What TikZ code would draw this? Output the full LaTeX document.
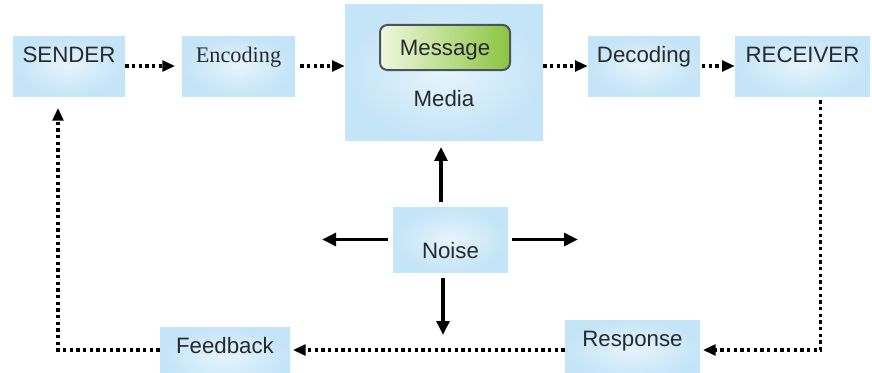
\documentclass[tikz,border=0pt]{standalone}
\usepackage{fontspec}
\setmainfont{Liberation Sans}
\newfontfamily\encfont{Liberation Serif}
\usepackage{tikz}
\usetikzlibrary{arrows.meta,positioning}

\definecolor{boxblue}{RGB}{196,228,247}
\definecolor{boxlight}{RGB}{230,244,252}
\definecolor{msglight}{RGB}{240,248,222}
\definecolor{msgdark}{RGB}{140,196,64}
\definecolor{msgedge}{RGB}{70,84,100}
\definecolor{txtgray}{RGB}{38,42,48}

\tikzset{
  blockbox/.style={rectangle, inner sep=0pt, inner color=boxlight, outer color=boxblue,
    text=txtgray, font=\fontsize{19}{21}\selectfont,
    minimum height=1.8cm, text height=0.48cm, text depth=0.72cm},
  msgbox/.style={rectangle, rounded corners=0.22cm, draw=msgedge, line width=0.06cm,
    left color=msglight, right color=msgdark, inner sep=0pt, text=txtgray,
    font=\fontsize{19}{21}\selectfont, minimum width=3.9cm, minimum height=1.35cm,
    text height=0.48cm, text depth=0cm},
  flow/.style={line width=0.11cm, dash pattern=on 0.1cm off 0.1cm,
    -{Triangle[length=0.38cm,width=0.32cm]}},
  noisearrow/.style={line width=0.11cm, -{Triangle[length=0.42cm,width=0.38cm]}}
}

\begin{document}
\begin{tikzpicture}
      \fill[white] (0,0) rectangle (26.16,11.16);
      \useasboundingbox (0,0) rectangle (26.16,11.16);

      % Top row
      \node[blockbox, minimum width=3.36cm] (sender) at (2.07,9.18) {SENDER};
      \node[blockbox, minimum width=3.39cm, font=\encfont\fontsize{19}{21}\selectfont]
        (encoding) at (7.155,9.18) {Encoding};
      \node[blockbox, minimum width=5.94cm, minimum height=4.05cm,
        text height=2.04cm, text depth=0cm] (media) at (13.32,8.985) {Media};
      \node[msgbox] (message) at (13.35,9.735) {Message};
      \node[blockbox, minimum width=3.36cm] (decoding) at (19.32,9.18) {Decoding};
      \node[blockbox, minimum width=4.05cm] (receiver) at (24.075,9.18) {RECEIVER};

      % Noise in the middle
      \node[blockbox, minimum width=3.45cm, minimum height=1.95cm,
        text height=1.11cm, text depth=0cm] (noise) at (13.515,3.975) {Noise};

      % Bottom row
      \node[blockbox, minimum width=4.05cm] (response) at (18.975,0.66) {Response};
      \node[blockbox, minimum width=3.9cm] (feedback) at (6.75,0.45) {Feedback};

      % Dotted flow
      \draw[flow, shorten >=0.2cm] (sender) -- (encoding);
      \draw[flow, shorten <=0.15cm] (encoding.east) -- (encoding.east -| media.west);
      \draw[flow] (media.east |- decoding.west) -- (decoding.west);
      \draw[flow, shorten <=0.05cm] (decoding) -- (receiver);
      \draw[flow, shorten <=0.12cm, shorten >=0.08cm] ([xshift=0.54cm]receiver.south) |- (response.east);
      \draw[flow, shorten >=0.08cm] (response.west) -- (response.west -| feedback.east);
      \draw[flow, shorten >=0.35cm] (feedback.west |- response.west) -| ([xshift=-0.33cm]sender.south);

      % Noise arrows
      \coordinate (noiseW) at (9.66,3.975);
      \coordinate (noiseE) at (17.34,3.975);
      \coordinate (noiseS) at (13.29,1.11);
      \draw[noisearrow, shorten <=0.15cm, shorten >=0.2cm]
        ([xshift=-0.285cm]noise.north) -- ([xshift=-0.285cm]noise.north |- media.south);
      \draw[noisearrow, shorten <=0.15cm] (noise.west) -- (noiseW);
      \draw[noisearrow, shorten <=0.12cm] (noise.east) -- (noiseE);
      \draw[noisearrow, shorten <=0.18cm] ([xshift=-0.225cm]noise.south) -- (noiseS);
\end{tikzpicture}
\end{document}
